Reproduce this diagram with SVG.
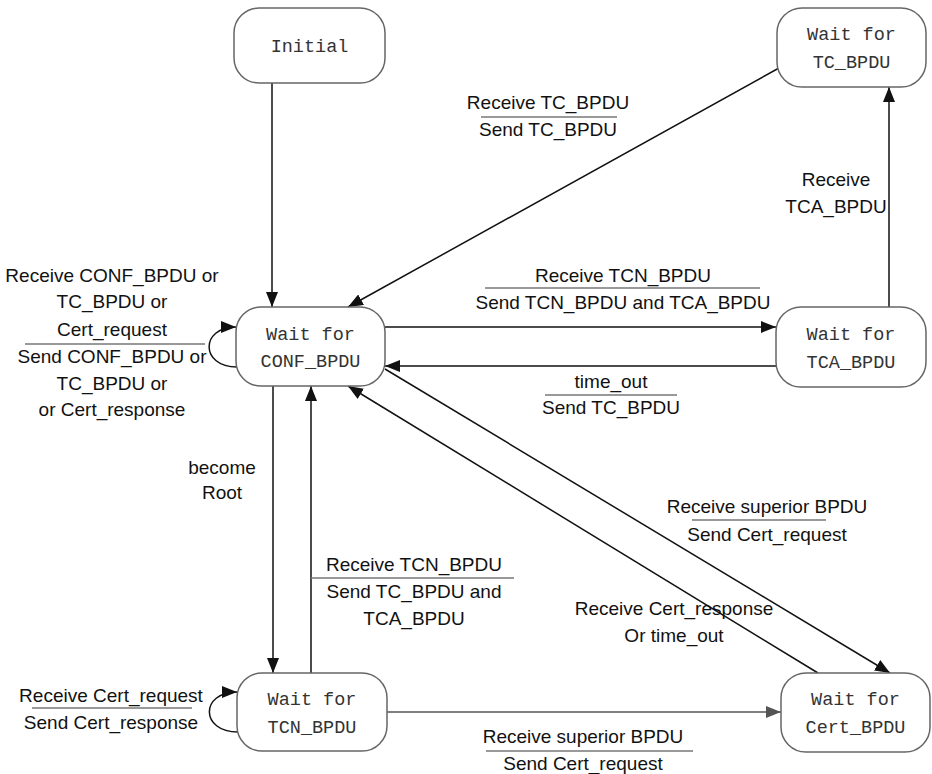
<svg xmlns="http://www.w3.org/2000/svg" width="932" height="774" viewBox="0 0 932 774">
<style>
.box{fill:#fff;stroke:#666;stroke-width:1.5}
.nt{font-family:"Liberation Mono",monospace;font-size:18.5px;fill:#333;text-anchor:middle}
.lb{font-family:"Liberation Sans",Arial,sans-serif;font-size:19px;fill:#111;text-anchor:middle}
.e{fill:none;stroke:#111;stroke-width:1.5}
.eg{fill:none;stroke:#555;stroke-width:1.5}
.bar{stroke:#777;stroke-width:1.5}
</style>
<defs>
<marker id="a" markerUnits="userSpaceOnUse" markerWidth="15" markerHeight="12" refX="15" refY="6" orient="auto"><path d="M0,0 L15,6 L0,12 z" fill="#111"/></marker>
<marker id="ag" markerUnits="userSpaceOnUse" markerWidth="15" markerHeight="12" refX="15" refY="6" orient="auto"><path d="M0,0 L15,6 L0,12 z" fill="#555"/></marker>
</defs>
<g id="connectors">
<path class="e" d="M272,83 L272,307" marker-end="url(#a)"/>
<path class="e" d="M779,68 L348,307" marker-end="url(#a)"/>
<path class="e" d="M385,327 L776,327" marker-end="url(#a)"/>
<path class="e" d="M776,366 L385,366" marker-end="url(#a)"/>
<path class="e" d="M889,307 L889,87" marker-end="url(#a)"/>
<path class="e" d="M237,367 C200,367 200,327 236,327" marker-end="url(#a)"/>
<path class="e" d="M273,386 L273,673" marker-end="url(#a)"/>
<path class="e" d="M311,673 L311,386" marker-end="url(#a)"/>
<path class="e" d="M238,732 C200,732 200,692 237,692" marker-end="url(#a)"/>
<path class="eg" d="M387,712 L781,712" marker-end="url(#ag)"/>
<path class="e" d="M385,369 L890,673" marker-end="url(#a)"/>
<path class="e" d="M818,673 L348,386" marker-end="url(#a)"/>
</g>
<g id="labels">
<text class="lb" x="548" y="109">Receive TC_BPDU</text>
<line class="bar" x1="481" y1="117" x2="617" y2="117"/>
<text class="lb" x="548" y="136">Send TC_BPDU</text>
<text class="lb" x="836" y="186">Receive</text>
<text class="lb" x="836" y="213">TCA_BPDU</text>
<text class="lb" x="623" y="282">Receive TCN_BPDU</text>
<line class="bar" x1="485" y1="288" x2="760" y2="288"/>
<text class="lb" x="623" y="309">Send TCN_BPDU and TCA_BPDU</text>
<text class="lb" x="611" y="388">time_out</text>
<line class="bar" x1="545" y1="395" x2="677" y2="395"/>
<text class="lb" x="611" y="414">Send TC_BPDU</text>
<text class="lb" x="112" y="282">Receive CONF_BPDU or</text>
<text class="lb" x="112" y="308">TC_BPDU or</text>
<text class="lb" x="112" y="336">Cert_request</text>
<line class="bar" x1="25" y1="344" x2="205" y2="344"/>
<text class="lb" x="112" y="363">Send CONF_BPDU or</text>
<text class="lb" x="112" y="390">TC_BPDU or</text>
<text class="lb" x="112" y="416">or Cert_response</text>
<text class="lb" x="222" y="474">become</text>
<text class="lb" x="222" y="499">Root</text>
<text class="lb" x="414" y="571">Receive TCN_BPDU</text>
<line class="bar" x1="311" y1="578" x2="514" y2="578"/>
<text class="lb" x="414" y="598">Send TC_BPDU and</text>
<text class="lb" x="414" y="625">TCA_BPDU</text>
<text class="lb" x="767" y="513">Receive superior BPDU</text>
<line class="bar" x1="692" y1="520" x2="826" y2="520"/>
<text class="lb" x="767" y="541">Send Cert_request</text>
<text class="lb" x="674" y="615">Receive Cert_response</text>
<text class="lb" x="674" y="642">Or time_out</text>
<text class="lb" x="111" y="702">Receive Cert_request</text>
<line class="bar" x1="32" y1="708" x2="192" y2="708"/>
<text class="lb" x="111" y="729">Send Cert_response</text>
<text class="lb" x="583" y="743">Receive superior BPDU</text>
<line class="bar" x1="486" y1="751" x2="693" y2="751"/>
<text class="lb" x="583" y="770">Send Cert_request</text>
</g>
<g id="initial"><rect class="box" x="234" y="8" width="151" height="75" rx="25"/><text class="nt" x="309.5" y="52">Initial</text></g>
<g id="wait_tc"><rect class="box" x="777" y="8" width="149" height="79" rx="25"/><text class="nt" x="851.5" y="40">Wait for</text><text class="nt" x="851.5" y="68">TC_BPDU</text></g>
<g id="wait_conf"><rect class="box" x="236" y="307" width="149" height="79" rx="25"/><text class="nt" x="310.5" y="340">Wait for</text><text class="nt" x="310.5" y="367">CONF_BPDU</text></g>
<g id="wait_tca"><rect class="box" x="776" y="307" width="150" height="80" rx="25"/><text class="nt" x="851" y="340">Wait for</text><text class="nt" x="851" y="368">TCA_BPDU</text></g>
<g id="wait_tcn"><rect class="box" x="237" y="673" width="150" height="78" rx="25"/><text class="nt" x="312" y="705">Wait for</text><text class="nt" x="312" y="733">TCN_BPDU</text></g>
<g id="wait_cert"><rect class="box" x="781" y="673" width="149" height="79" rx="25"/><text class="nt" x="855.5" y="705">Wait for</text><text class="nt" x="855.5" y="733">Cert_BPDU</text></g>
</svg>
